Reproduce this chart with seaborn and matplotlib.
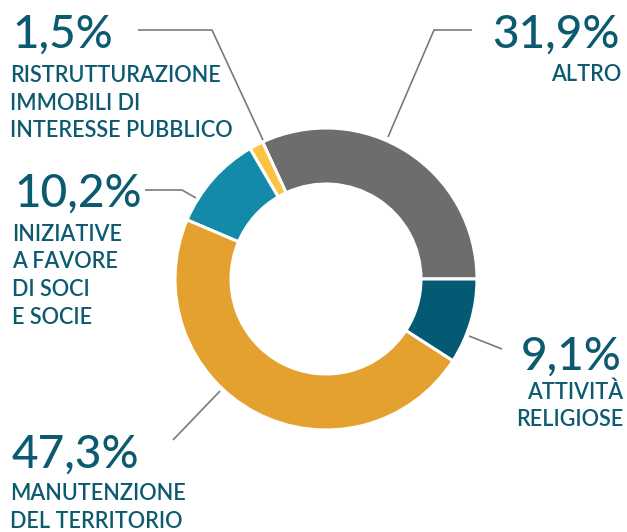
import matplotlib.pyplot as plt
import seaborn as sns

# Data (counter-clockwise from 3 o'clock)
categories = ["ALTRO", "RISTRUTTURAZIONE\nIMMOBILI DI\nINTERESSE PUBBLICO",
              "INIZIATIVE\nA FAVORE\nDI SOCI\nE SOCIE", "MANUTENZIONE\nDEL TERRITORIO",
              "ATTIVITÀ\nRELIGIOSE"]
shares = [31.9, 1.5, 10.2, 47.3, 9.1]
colors = ["#6d6d6d", "#fbc344", "#138aa9", "#e5a12f", "#035a72"]
pct_labels = [f"{v:.1f}%".replace(".", ",") for v in shares]

sns.set_theme(style="white")
plt.rcParams["font.family"] = ["Lato", "DejaVu Sans"]
text_color = "#0c5a70"
line_color = "#7a7a7a"

fig = plt.figure(figsize=(6.27, 5.32), dpi=100)
ax = fig.add_axes([0, 0, 1, 1])

# Donut (y axis is flipped below, so clockwise in data = counter-clockwise on screen)
ax.pie(shares, colors=colors, startangle=0, counterclock=False,
       center=(326, 279), radius=151,
       wedgeprops=dict(width=56, edgecolor="white", linewidth=2.2))
ax.set_xlim(0, 627)
ax.set_ylim(532, 0)
ax.axis("off")

# Leader lines
leaders = [
    ([472, 434, 388], [30, 30, 137]),
    ([138, 212, 263], [30, 30, 140]),
    ([145, 182, 196], [190, 190, 198]),
    ([173, 220], [440, 391]),
    ([469, 502], [336, 349]),
]
for xs, ys in leaders:
    ax.plot(xs, ys, color=line_color, lw=1.2, solid_capstyle="butt")

# Label blocks: (x, baseline of percent, offset to first label line, alignment)
blocks = [(620, 48, 33, "right"), (12, 48, 34, "left"), (14, 207, 34, "left"),
          (12, 468, 32, "left"), (622, 370, 29, "right")]
pitch = 27.5
for (x, y, off, ha), pct, name in zip(blocks, pct_labels, categories):
    ax.text(x, y, pct, fontsize=33, color=text_color, ha=ha, va="baseline",
            fontweight="medium")
    for i, line in enumerate(name.split("\n")):
        ax.text(x - (2 if ha == "left" else -1), y + off + i * pitch, line,
                fontsize=15.6, color=text_color, ha=ha, va="baseline",
                fontweight="semibold")

fig.savefig("out.png", dpi=100, facecolor="white")
